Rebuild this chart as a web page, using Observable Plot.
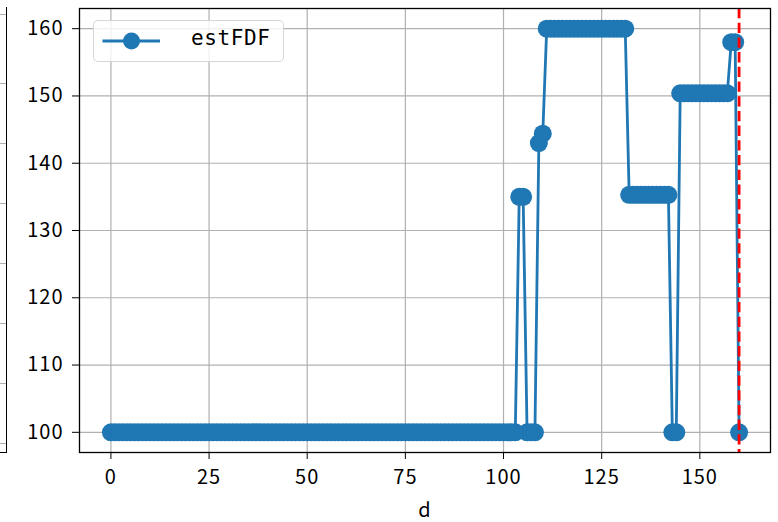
<!DOCTYPE html>
<html>
<head>
<meta charset="utf-8">
<script src="https://cdn.jsdelivr.net/npm/d3@7"></script>
<script src="https://cdn.jsdelivr.net/npm/@observablehq/plot@0.6"></script>
<style>
  html, body { margin: 0; padding: 0; background: #fff; }
  #wrap { position: relative; width: 778px; height: 522px; overflow: hidden; }
  #wrap svg text { letter-spacing: 1px; }
  #neighbor { position: absolute; left: 0; top: 7px; width: 6px; height: 445px;
    border-right: 1.3px solid #000; border-bottom: 1.3px solid #000; }
  .stub { position: absolute; left: 0; width: 6px; height: 1.2px; background: #b0b0b0; }
  #legend { position: absolute; left: 93px; top: 20px; width: 189px; height: 40px;
    border: 1px solid rgba(204,204,204,0.8); border-radius: 5px; background: rgba(255,255,255,0.8); }
  #legend svg { position: absolute; left: 0; top: 0; }
  #legend span { position: absolute; left: 97px; top: 5px; font-family: "DejaVu Sans Mono", monospace;
    font-size: 21px; letter-spacing: 0.6px; color: #000; white-space: pre; }
</style>
</head>
<body>
<div id="wrap"></div>
<script>
// Series values of estFDF at d = 0 .. 160 (index = d)
const estFDF = [
  100,100,100,100,100,100,100,100,100,100,
  100,100,100,100,100,100,100,100,100,100,
  100,100,100,100,100,100,100,100,100,100,
  100,100,100,100,100,100,100,100,100,100,
  100,100,100,100,100,100,100,100,100,100,
  100,100,100,100,100,100,100,100,100,100,
  100,100,100,100,100,100,100,100,100,100,
  100,100,100,100,100,100,100,100,100,100,
  100,100,100,100,100,100,100,100,100,100,
  100,100,100,100,100,100,100,100,100,100,
  100,100,100,100,135,135,100,100,100,143,
  144.4,160,160,160,160,160,160,160,160,160,
  160,160,160,160,160,160,160,160,160,160,
  160,160,135.3,135.3,135.3,135.3,135.3,135.3,135.3,135.3,
  135.3,135.3,135.3,100,100,150.4,150.4,150.4,150.4,150.4,
  150.4,150.4,150.4,150.4,150.4,150.4,150.4,150.4,158,158,
  100
];
const xTicks = [0, 25, 50, 75, 100, 125, 150];
const yTicks = [100, 110, 120, 130, 140, 150, 160];
const markerD = [160];
const seriesName = "estFDF";
const xLabel = "d";

const data = estFDF.map((v, i) => ({d: i, v}));
const blue = "#1f77b4";

const chart = Plot.plot({
  width: 778,
  height: 522,
  marginLeft: 79,
  marginRight: 8,
  marginTop: 8,
  marginBottom: 70,
  style: {fontFamily: "'Noto Sans CJK JP', sans-serif", fontSize: "20px", color: "#000", background: "#fff"},
  x: {domain: [-8, 168]},
  y: {domain: [97, 163]},
  marks: [
    Plot.gridX(xTicks, {stroke: "#b0b0b0", strokeOpacity: 1, strokeWidth: 1.2}),
    Plot.gridY(yTicks, {stroke: "#b0b0b0", strokeOpacity: 1, strokeWidth: 1.2}),
    Plot.line(data, {x: "d", y: "v", stroke: blue, strokeWidth: 2.8}),
    Plot.dot(data, {x: "d", y: "v", r: 9, fill: blue, stroke: "none"}),
    Plot.ruleX(markerD, {stroke: "red", strokeWidth: 2.8, strokeDasharray: "10.3,4.4"}),
    Plot.frame({stroke: "#000", strokeWidth: 1.3}),
    Plot.axisX(xTicks, {tickSize: 7, tickPadding: 10, tickFormat: d => String(d), label: xLabel,
      labelAnchor: "center", labelArrow: "none", labelOffset: 64, fontSize: 20}),
    Plot.axisY(yTicks, {tickSize: 7, tickPadding: 9, tickFormat: d => String(d), label: null, fontSize: 20})
  ]
});

const wrap = document.getElementById("wrap");
wrap.appendChild(chart);

// neighbouring subplot edge, cut off at the left
const nb = document.createElement("div");
nb.id = "neighbor";
wrap.appendChild(nb);
[14, 83, 143, 203, 263, 323, 383, 443].forEach(y => {
  const s = document.createElement("div");
  s.className = "stub";
  s.style.top = y + "px";
  wrap.appendChild(s);
});

// legend
const lg = document.createElement("div");
lg.id = "legend";
lg.innerHTML = `<svg width="80" height="40"><line x1="8.5" y1="20" x2="66" y2="20" stroke="${blue}" stroke-width="2.8"/><circle cx="37.5" cy="20" r="8.5" fill="${blue}"/></svg><span>${seriesName}</span>`;
wrap.appendChild(lg);
</script>
</body>
</html>
